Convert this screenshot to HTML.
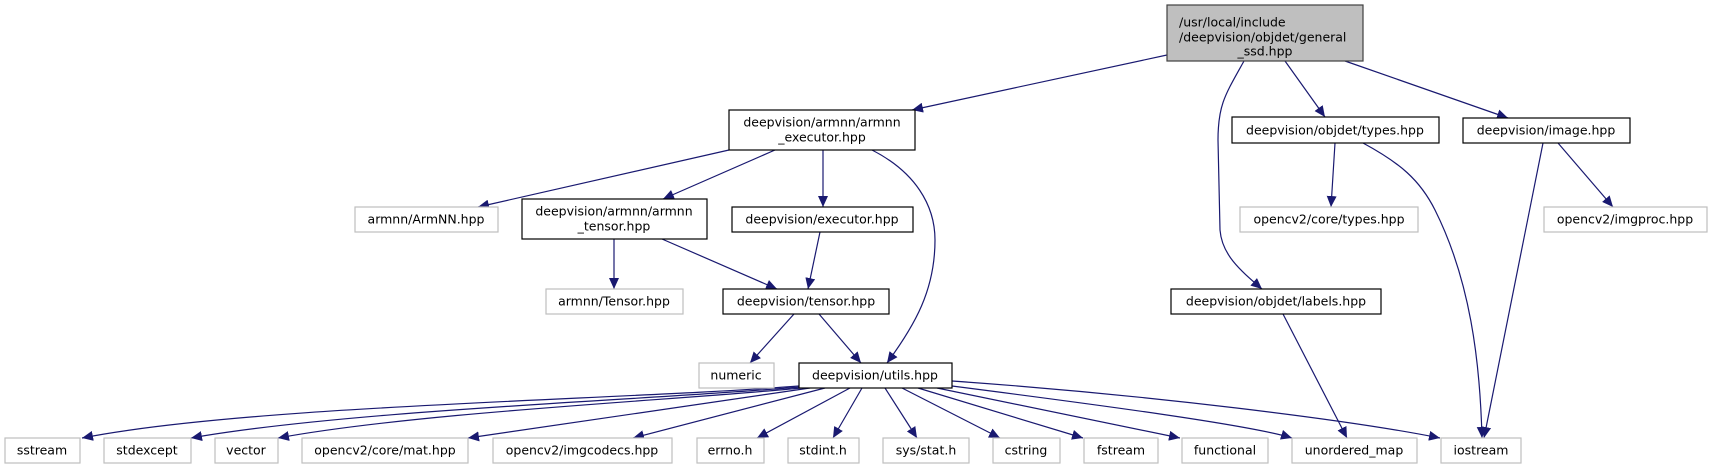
<!DOCTYPE html>
<html><head><meta charset="utf-8"><style>
html,body{margin:0;padding:0;background:#fff;width:1712px;height:469px;overflow:hidden}
svg{display:block}
text{font-family:"DejaVu Sans","Liberation Sans",sans-serif;font-size:12.5px;fill:#000}
.b{fill:#fff;stroke:#000;stroke-width:1.2}
.g{fill:#fff;stroke:#bfbfbf;stroke-width:1.2}
.e{fill:none;stroke:#191970;stroke-width:1.2}
</style></head><body>
<svg width="1712" height="469" viewBox="0 0 1712 469" xmlns="http://www.w3.org/2000/svg">
<defs>
<marker id="a" markerUnits="userSpaceOnUse" markerWidth="12" markerHeight="10" refX="11" refY="5" orient="auto">
<path d="M0,0 L11,5 L0,10 z" fill="#191970"/>
</marker>
</defs>
<g class="e" marker-end="url(#a)">
<path d="M1167,55 L912,110"/>
<path d="M1244,61 C1225,95 1218,105 1218,140 L1220,230 C1222,255 1240,270 1262,289"/>
<path d="M1285,61 L1325,117"/>
<path d="M1345,61 L1508,118"/>
<path d="M729,150 L478,207"/>
<path d="M775,150 L663,199"/>
<path d="M823,150 L823,207"/>
<path d="M872,150 C915,172 935,205 935,240 C935,290 915,325 887,363"/>
<path d="M614,239 L614,289"/>
<path d="M662,239 L777,289"/>
<path d="M820,232 L808,289"/>
<path d="M794,314 L750,363"/>
<path d="M819,314 L861,363"/>
<path d="M1335,143 L1331,207"/>
<path d="M1363,143 C1400,163 1420,180 1435,210 C1470,280 1480,360 1482,438"/>
<path d="M1543,143 L1484,438"/>
<path d="M1558,143 L1613,207"/>
<path d="M1283,314 L1347,438"/>
<path d="M799,386 C620,400 250,405 82,438"/>
<path d="M800,387 C650,400 350,410 191,438"/>
<path d="M801,388 C680,400 420,412 278,438"/>
<path d="M810,388 L468,438"/>
<path d="M825,388 L633,438"/>
<path d="M850,388 L757,438"/>
<path d="M862,388 L833,438"/>
<path d="M885,388 L917,438"/>
<path d="M902,388 L1000,438"/>
<path d="M918,388 L1083,438"/>
<path d="M937,388 L1180,438"/>
<path d="M952,386 C1100,405 1250,425 1292,438"/>
<path d="M952,381 C1150,395 1350,420 1440,438"/>
</g>

<rect x="1167" y="5" width="196" height="56" fill="#bfbfbf" stroke="#404040" stroke-width="1.2"/>
<text x="1179" y="22" dominant-baseline="central">/usr/local/include</text>
<text x="1179" y="37" dominant-baseline="central">/deepvision/objdet/general</text>
<text x="1265" y="51" text-anchor="middle" dominant-baseline="central">_ssd.hpp</text>

<g text-anchor="middle" dominant-baseline="central">
<rect class="b" x="729" y="110" width="186" height="40"/>
<text x="822" y="122">deepvision/armnn/armnn</text>
<text x="822" y="137">_executor.hpp</text>

<rect class="b" x="1232" y="117" width="207" height="26"/><text x="1335" y="130">deepvision/objdet/types.hpp</text>
<rect class="b" x="1463" y="118" width="167" height="25"/><text x="1546" y="130">deepvision/image.hpp</text>

<rect class="g" x="355" y="207" width="143" height="25"/><text x="426" y="219">armnn/ArmNN.hpp</text>
<rect class="b" x="522" y="199" width="185" height="40"/>
<text x="614" y="211">deepvision/armnn/armnn</text>
<text x="614" y="226">_tensor.hpp</text>
<rect class="b" x="732" y="207" width="181" height="25"/><text x="822" y="219">deepvision/executor.hpp</text>
<rect class="g" x="1240" y="207" width="178" height="25"/><text x="1329" y="219">opencv2/core/types.hpp</text>
<rect class="g" x="1544" y="207" width="163" height="25"/><text x="1625" y="219">opencv2/imgproc.hpp</text>

<rect class="g" x="546" y="289" width="137" height="25"/><text x="614" y="301">armnn/Tensor.hpp</text>
<rect class="b" x="723" y="289" width="166" height="25"/><text x="806" y="301">deepvision/tensor.hpp</text>
<rect class="b" x="1171" y="289" width="210" height="25"/><text x="1276" y="301">deepvision/objdet/labels.hpp</text>

<rect class="g" x="699" y="363" width="75" height="25"/><text x="736" y="375">numeric</text>
<rect class="b" x="799" y="363" width="153" height="25"/><text x="875" y="375">deepvision/utils.hpp</text>

<rect class="g" x="5" y="438" width="75" height="25"/><text x="42" y="450">sstream</text>
<rect class="g" x="104" y="438" width="87" height="25"/><text x="147" y="450">stdexcept</text>
<rect class="g" x="215" y="438" width="63" height="25"/><text x="246" y="450">vector</text>
<rect class="g" x="302" y="438" width="166" height="25"/><text x="385" y="450">opencv2/core/mat.hpp</text>
<rect class="g" x="493" y="438" width="179" height="25"/><text x="582" y="450">opencv2/imgcodecs.hpp</text>
<rect class="g" x="697" y="438" width="67" height="25"/><text x="730" y="450">errno.h</text>
<rect class="g" x="788" y="438" width="71" height="25"/><text x="823" y="450">stdint.h</text>
<rect class="g" x="883" y="438" width="86" height="25"/><text x="926" y="450">sys/stat.h</text>
<rect class="g" x="993" y="438" width="67" height="25"/><text x="1026" y="450">cstring</text>
<rect class="g" x="1084" y="438" width="74" height="25"/><text x="1121" y="450">fstream</text>
<rect class="g" x="1182" y="438" width="86" height="25"/><text x="1225" y="450">functional</text>
<rect class="g" x="1292" y="438" width="125" height="25"/><text x="1354" y="450">unordered_map</text>
<rect class="g" x="1441" y="438" width="80" height="25"/><text x="1481" y="450">iostream</text>
</g>
</svg>
</body></html>
